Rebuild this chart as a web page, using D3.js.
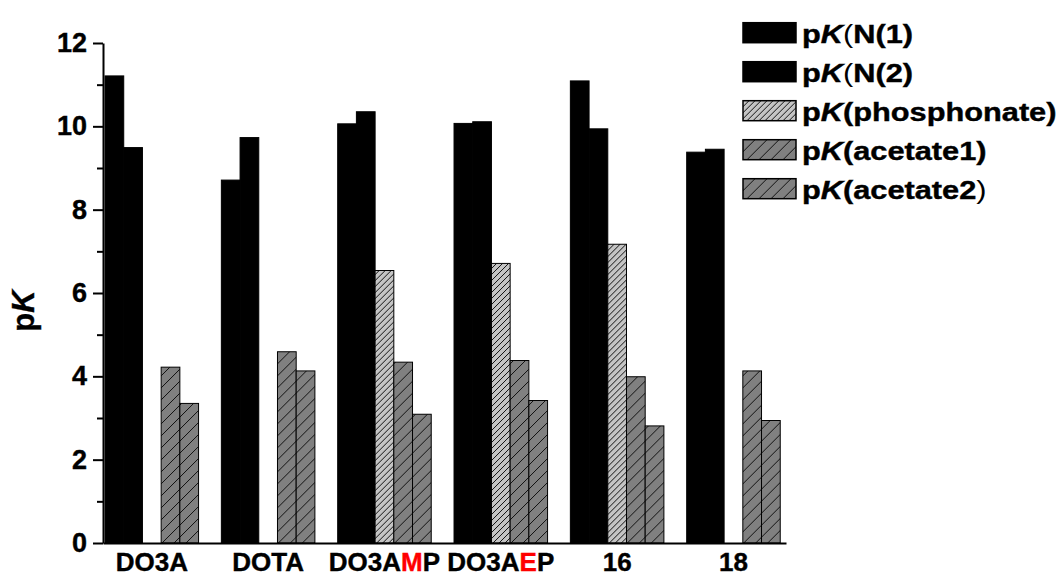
<!DOCTYPE html>
<html>
<head>
<meta charset="utf-8">
<script src="https://cdn.jsdelivr.net/npm/d3@7"></script>
<style>
  body { margin: 0; background: #fff; }
  svg { display: block; }
  text { font-family: "Liberation Sans", Arial, sans-serif; font-weight: bold; fill: #000; stroke: #000; stroke-width: 0.4; }
  text tspan.red { fill: #ff0000; stroke: #ff0000; }
</style>
</head>
<body>
<svg id="chart" width="1062" height="577"></svg>
<script>
// Protonation constants (pK) per ligand
const ligands = ["DO3A", "DOTA", "DO3AMP", "DO3AEP", "16", "18"];
const redLetterIndex = [null, null, 4, 4, null, null];   // letter printed in red in the axis label
const seriesKeys = ["N1", "N2", "phosphonate", "acetate1", "acetate2"];
const pkN1 = [11.21, 8.71, 10.06, 10.07, 11.09, 9.38];
const pkN2 = [9.49, 9.73, 10.35, 10.11, 9.94, 9.45];
const pkPhosphonate = [null, null, 6.54, 6.71, 7.17, null];
const pkAcetate1 = [4.22, 4.59, 4.34, 4.38, 3.99, 4.13];
const pkAcetate2 = [3.35, 4.13, 3.09, 3.42, 2.81, 2.94];
const legendLabels = ["(N(1)", "(N(2)", "(phosphonate)", "(acetate1)", "(acetate2)"];
const yMajorTicks = [0, 2, 4, 6, 8, 10, 12];
const yMinorTicks = [1, 3, 5, 7, 9, 11];

const seriesValues = [pkN1, pkN2, pkPhosphonate, pkAcetate1, pkAcetate2];
const rows = ligands.map((lig, i) => {
  const r = { ligand: lig };
  seriesKeys.forEach((k, j) => { r[k] = seriesValues[j][i]; });
  return r;
});

const svg = d3.select("#chart");
const defs = svg.append("defs");

// diagonal hatch fills
function hatch(id, bg, gap) {
  const p = defs.append("pattern")
    .attr("id", id)
    .attr("patternUnits", "userSpaceOnUse")
    .attr("width", gap).attr("height", gap);
  p.append("rect").attr("width", gap).attr("height", gap).attr("fill", bg);
  p.append("path")
    .attr("d", `M-1,1 L1,-1 M0,${gap} L${gap},0 M${gap - 1},${gap + 1} L${gap + 1},${gap - 1}`)
    .attr("stroke", "#111").attr("stroke-width", 1);
}
hatch("hatchFine", "#c4c4c4", 6);
hatch("hatchWide", "#808080", 12);

const fills = {
  N1: "#000",
  N2: "#000",
  phosphonate: "url(#hatchFine)",
  acetate1: "url(#hatchWide)",
  acetate2: "url(#hatchWide)"
};

// scales
const y = d3.scaleLinear().domain([0, 12]).range([543, 43]);
const x = d3.scaleBand()
  .domain(ligands)
  .range([103, 786])
  .paddingInner(0.196)
  .paddingOuter(0.0335)
  .align(0.26);
const xs = d3.scaleBand().domain(seriesKeys).range([0, x.bandwidth()]).padding(0);

// bars
const groups = svg.append("g").selectAll("g")
  .data(rows)
  .join("g")
  .attr("transform", d => `translate(${x(d.ligand)},0)`);

groups.selectAll("rect")
  .data(d => seriesKeys.filter(k => d[k] != null).map(k => ({ key: k, value: d[k] })))
  .join("rect")
  .attr("x", d => xs(d.key))
  .attr("y", d => y(d.value))
  .attr("width", xs.bandwidth())
  .attr("height", d => y(0) - y(d.value))
  .attr("fill", d => fills[d.key])
  .attr("stroke", "#000")
  .attr("stroke-width", 1);

// y axis
const yAxisG = svg.append("g")
  .attr("transform", "translate(103,0)")
  .call(d3.axisLeft(y).tickValues(yMajorTicks).tickSize(10).tickSizeOuter(0).tickPadding(6));
yAxisG.select(".domain").attr("stroke-width", 2);
yAxisG.selectAll(".tick line").attr("stroke-width", 2);
yAxisG.selectAll(".tick text")
  .attr("font-size", 27)
  .attr("font-family", "'Liberation Sans', Arial, sans-serif")
  .attr("font-weight", "bold");

const yMinorG = svg.append("g")
  .attr("transform", "translate(103,0)")
  .call(d3.axisLeft(y).tickValues(yMinorTicks).tickSize(6).tickFormat(""));
yMinorG.select(".domain").remove();
yMinorG.selectAll(".tick line").attr("stroke-width", 2);

// x axis
const xAxisG = svg.append("g")
  .attr("transform", `translate(0,${y(0)})`)
  .call(d3.axisBottom(x).tickSize(0).tickSizeOuter(0).tickPadding(10));
xAxisG.select(".domain").attr("stroke-width", 2);
xAxisG.selectAll(".tick text")
  .attr("font-size", 26)
  .attr("font-family", "'Liberation Sans', Arial, sans-serif")
  .attr("font-weight", "bold")
  .each(function (d) {
    const t = d3.select(this);
    const idx = redLetterIndex[ligands.indexOf(d)];
    if (idx == null) return;
    t.text(null);
    t.append("tspan").text(d.slice(0, idx));
    t.append("tspan").attr("class", "red").text(d.slice(idx, idx + 1));
    t.append("tspan").text(d.slice(idx + 1));
  });

// y axis title
const yTitle = svg.append("text")
  .attr("transform", "translate(34,311) rotate(-90)")
  .attr("text-anchor", "middle")
  .attr("font-size", 31);
yTitle.append("tspan").text("p");
yTitle.append("tspan").attr("font-style", "italic").text("K");

// legend
const legend = svg.append("g").selectAll("g")
  .data(seriesKeys)
  .join("g")
  .attr("transform", (d, i) => `translate(743,${22.7 + i * 39})`);

legend.append("rect")
  .attr("width", 53).attr("height", 20)
  .attr("fill", d => fills[d])
  .attr("stroke", "#000").attr("stroke-width", 1.5);

legend.append("text")
  .attr("transform", "translate(59,20) scale(1.23,1)")
  .attr("font-size", 25)
  .each(function (d, i) {
    const t = d3.select(this);
    const label = legendLabels[i];
    t.append("tspan").text("p");
    t.append("tspan").attr("font-style", "italic").text("K");
    const thinOpen = i < 2;
    const thinClose = i === 4;
    let body = label;
    if (thinOpen) {
      t.append("tspan").attr("font-weight", "normal").attr("stroke-width", 0).text("(");
      body = body.slice(1);
    }
    if (thinClose) {
      t.append("tspan").text(body.slice(0, -1));
      t.append("tspan").attr("font-weight", "normal").attr("stroke-width", 0).text(")");
    } else {
      t.append("tspan").text(body);
    }
  });
</script>
</body>
</html>
